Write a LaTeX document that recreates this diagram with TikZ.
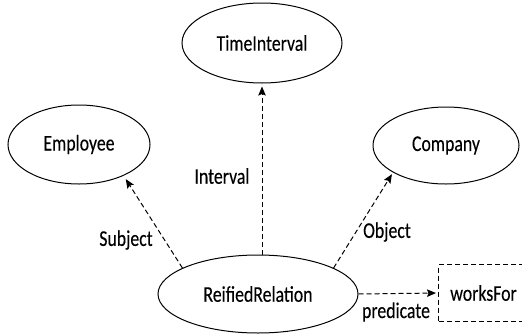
\documentclass[tikz,border=0pt]{standalone}
\usepackage{fontspec}
\setmainfont{Carlito}[FakeStretch=0.79,FakeBold=0.15]
\usetikzlibrary{arrows.meta,shapes.geometric}
\begin{document}
\begin{tikzpicture}[x=1pt,y=-1pt,
  every node/.style={font=\fontsize{22.5}{27}\selectfont},
  concept/.style={draw, ellipse, line width=1pt, inner sep=0pt},
  rel/.style={draw, dash pattern=on 5pt off 3pt, line width=1pt,
              -{Stealth[length=9pt,width=7.5pt,inset=1.5pt]}},
  lbl/.style={inner sep=0pt}]
\clip (0,0) rectangle (522,335);

% classes
\node[concept, minimum width=160pt, minimum height=80pt] (ti)  at (262,43)    {TimeInterval};
\node[concept, minimum width=142pt, minimum height=79pt] (emp) at (79,144.5)  {Employee};
\node[concept, minimum width=146pt, minimum height=77pt] (com) at (446,145.5) {Company};
\node[concept, minimum width=200pt, minimum height=78pt] (rr)  at (258,294)   {ReifiedRelation};

% literal (its right side runs past the edge)
\node[draw, dash pattern=on 5pt off 3pt, line width=1pt, anchor=west,
      minimum width=90pt, minimum height=57pt, inner sep=0pt] (wf) at (438,293) {worksFor};

% properties
\draw[rel, shorten >=4pt] (rr.161) -- (emp.-35);
\draw[rel, shorten >=3pt] (rr.north -| ti.south) -- (ti.south);
\draw[rel, shorten >=2pt] (rr.19) -- (com.207);
\draw[rel, shorten >=2pt] (rr.east) -- (wf.west);

% property labels
\node[lbl] (lsub)  at (126,240) {Subject};
\node[lbl] (lint)  at (222,176) {Interval};
\node[lbl] (lobj)  at (387,232) {Object};
\node[lbl] (lpred) at (396,312) {predicate};
\end{tikzpicture}
\end{document}
